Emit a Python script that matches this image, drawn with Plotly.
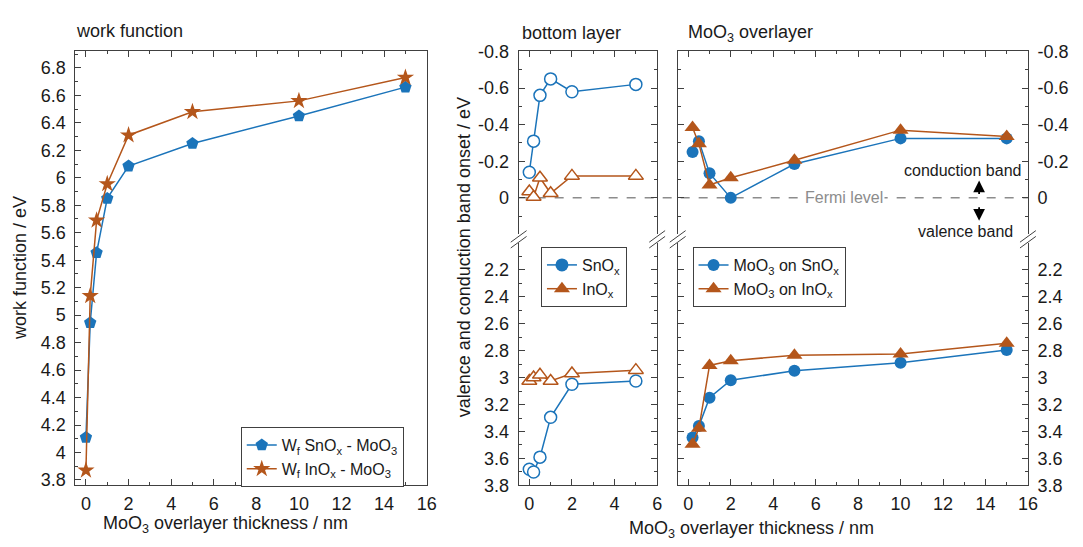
import plotly.graph_objects as go

# ---------------- data ----------------
thickness_wf = [0, 0.2, 0.5, 1, 2, 5, 10, 15]
wf_snox = [4.11, 4.945, 5.455, 5.85, 6.085, 6.25, 6.45, 6.66]
wf_inox = [3.87, 5.14, 5.69, 5.955, 6.31, 6.48, 6.56, 6.73]

bottom_x = [0, 0.2, 0.5, 1, 2, 5]
bottom_snox_cb = [-0.14, -0.31, -0.56, -0.65, -0.58, -0.62]
bottom_inox_cb = [-0.035, -0.005, -0.11, -0.025, -0.12, -0.12]
bottom_snox_vb = [3.68, 3.70, 3.59, 3.295, 3.05, 3.025]
bottom_inox_vb = [3.025, 3.0, 2.98, 3.025, 2.97, 2.945]

overlayer_x = [0.2, 0.5, 1, 2, 5, 10, 15]
moo3_snox_cb = [-0.25, -0.31, -0.135, 0.0, -0.185, -0.325, -0.325]
moo3_inox_cb = [-0.385, -0.295, -0.07, -0.11, -0.205, -0.37, -0.335]
moo3_snox_vb = [3.445, 3.36, 3.15, 3.02, 2.95, 2.89, 2.795]
moo3_inox_vb = [3.495, 3.375, 2.91, 2.875, 2.835, 2.825, 2.745]

cb_ticks = [-0.8, -0.6, -0.4, -0.2, 0]
cb_ticktext = ["-0.8", "-0.6", "-0.4", "-0.2", "0"]
cb_minor = [-0.7, -0.5, -0.3, -0.1, 0.1]
vb_ticks = [2.2, 2.4, 2.6, 2.8, 3.0, 3.2, 3.4, 3.6, 3.8]
vb_ticktext = ["2.2", "2.4", "2.6", "2.8", "3", "3.2", "3.4", "3.6", "3.8"]
vb_minor = [2.1, 2.3, 2.5, 2.7, 2.9, 3.1, 3.3, 3.5, 3.7]

# ---------------- style ----------------
W, H = 1083, 547
BLUE = "#1b74ba"
ORANGE = "#b4561b"
AX = "#404040"
TXT = "#1a1a1a"
FONT = "Liberation Sans, Arial, sans-serif"


def px(p):
    return p / W


def py(p):
    return 1 - p / H


# panel positions (pixels)
L_X = (76, 430.7)
M_X = (523.5, 663.3)
R_X = (684, 1037.5)
FULL_Y = (43, 493.5)
UP_Y = (43, 233)
LO_Y = (241.5, 493.5)

fig = go.Figure()

# ---- left panel: work function ----
fig.add_trace(go.Scatter(
    x=thickness_wf, y=wf_snox, mode="lines+markers", xaxis="x", yaxis="y",
    name="W<sub>f</sub> SnO<sub>x</sub> - MoO<sub>3</sub>",
    line=dict(color=BLUE, width=1.5),
    marker=dict(symbol="pentagon", size=13, color=BLUE), legend="legend"))
fig.add_trace(go.Scatter(
    x=thickness_wf, y=wf_inox, mode="lines+markers", xaxis="x", yaxis="y",
    name="W<sub>f</sub> InO<sub>x</sub> - MoO<sub>3</sub>",
    line=dict(color=ORANGE, width=1.5),
    marker=dict(symbol="star", size=13, color=ORANGE), legend="legend"))

# ---- middle panel: bottom layer (hollow markers) ----
hollow_c = dict(symbol="circle", size=12, color="white", line=dict(color=BLUE, width=1.5))
hollow_t = dict(symbol="triangle-up", size=13, color="white", line=dict(color=ORANGE, width=1.5))
fig.add_trace(go.Scatter(x=bottom_x, y=bottom_snox_cb, mode="lines+markers", xaxis="x2", yaxis="y2",
                         line=dict(color=BLUE, width=1.5), marker=hollow_c, showlegend=False))
fig.add_trace(go.Scatter(x=bottom_x, y=bottom_inox_cb, mode="lines+markers", xaxis="x2", yaxis="y2",
                         line=dict(color=ORANGE, width=1.5), marker=hollow_t, showlegend=False))
fig.add_trace(go.Scatter(x=bottom_x, y=bottom_snox_vb, mode="lines+markers", xaxis="x3", yaxis="y3",
                         line=dict(color=BLUE, width=1.5), marker=hollow_c, showlegend=False))
fig.add_trace(go.Scatter(x=bottom_x, y=bottom_inox_vb, mode="lines+markers", xaxis="x3", yaxis="y3",
                         line=dict(color=ORANGE, width=1.5), marker=hollow_t, showlegend=False))
# legend entries of the middle panel (filled symbols)
fig.add_trace(go.Scatter(x=[None], y=[None], mode="lines+markers", xaxis="x3", yaxis="y3",
                         name="SnO<sub>x</sub>", line=dict(color=BLUE, width=1.5),
                         marker=dict(symbol="circle", size=13, color=BLUE), legend="legend2"))
fig.add_trace(go.Scatter(x=[None], y=[None], mode="lines+markers", xaxis="x3", yaxis="y3",
                         name="InO<sub>x</sub>", line=dict(color=ORANGE, width=1.5),
                         marker=dict(symbol="triangle-up", size=14, color=ORANGE), legend="legend2"))

# ---- right panel: MoO3 overlayer ----
filled_c = dict(symbol="circle", size=12, color=BLUE)
filled_t = dict(symbol="triangle-up", size=14, color=ORANGE)
fig.add_trace(go.Scatter(x=overlayer_x, y=moo3_snox_cb, mode="lines+markers", xaxis="x4", yaxis="y4",
                         name="MoO<sub>3</sub> on SnO<sub>x</sub>", line=dict(color=BLUE, width=1.5),
                         marker=filled_c, legend="legend3"))
fig.add_trace(go.Scatter(x=overlayer_x, y=moo3_inox_cb, mode="lines+markers", xaxis="x4", yaxis="y4",
                         name="MoO<sub>3</sub> on InO<sub>x</sub>", line=dict(color=ORANGE, width=1.5),
                         marker=filled_t, legend="legend3"))
fig.add_trace(go.Scatter(x=overlayer_x, y=moo3_snox_vb, mode="lines+markers", xaxis="x5", yaxis="y5",
                         line=dict(color=BLUE, width=1.5), marker=filled_c, showlegend=False))
fig.add_trace(go.Scatter(x=overlayer_x, y=moo3_inox_vb, mode="lines+markers", xaxis="x5", yaxis="y5",
                         line=dict(color=ORANGE, width=1.5), marker=filled_t, showlegend=False))

# ---------------- axes ----------------
base = dict(showline=True, linecolor=AX, linewidth=1, ticks="inside", tickcolor=AX, tickwidth=1,
            showgrid=False, zeroline=False, tickfont=dict(size=18, color=TXT, family=FONT))
xbase = dict(base, ticklen=6, tickmode="linear", tick0=0, dtick=2,
             minor=dict(ticks="inside", ticklen=3, tickcolor=AX, tickmode="linear", tick0=0, dtick=1, showgrid=False),
             ticklabelstandoff=2)


def cb_axis(**kw):
    return dict(base, ticklen=6, tickmode="array", tickvals=cb_ticks, ticktext=cb_ticktext,
                minor=dict(ticks="inside", ticklen=3, tickcolor=AX, tickmode="array", tickvals=cb_minor),
                range=[0.2, -0.8], mirror="ticks", domain=[py(UP_Y[1]), py(UP_Y[0])],
                ticklabelstandoff=5, **kw)


def vb_axis(**kw):
    return dict(base, ticklen=6, tickmode="array", tickvals=vb_ticks, ticktext=vb_ticktext,
                minor=dict(ticks="inside", ticklen=3, tickcolor=AX, tickmode="array", tickvals=vb_minor),
                range=[3.8, 2.0], mirror="ticks", domain=[py(LO_Y[1]), py(LO_Y[0])],
                ticklabelstandoff=5, **kw)


fig.update_layout(
    xaxis=dict(xbase, domain=[px(L_X[0]), px(L_X[1])], range=[-0.5, 16], anchor="y", mirror="ticks"),
    yaxis=dict(base, domain=[py(FULL_Y[1]), py(FULL_Y[0])], range=[3.76, 6.92], anchor="x",
               ticklen=6, tickmode="linear", tick0=0, dtick=0.2, mirror=True,
               minor=dict(ticks="inside", ticklen=3, tickcolor=AX, tickmode="linear", tick0=0, dtick=0.1),
               ticklabelstandoff=5),
    xaxis2=dict(xbase, domain=[px(M_X[0]), px(M_X[1])], range=[-0.5, 6], anchor="y2", side="top",
                showticklabels=False),
    yaxis2=cb_axis(anchor="x2"),
    xaxis3=dict(xbase, domain=[px(M_X[0]), px(M_X[1])], range=[-0.5, 6], anchor="y3"),
    yaxis3=vb_axis(anchor="x3"),
    xaxis4=dict(xbase, domain=[px(R_X[0]), px(R_X[1])], range=[-0.5, 16], anchor="y4", side="top",
                showticklabels=False),
    yaxis4=cb_axis(anchor="x4", side="right"),
    xaxis5=dict(xbase, domain=[px(R_X[0]), px(R_X[1])], range=[-0.5, 16], anchor="y5"),
    yaxis5=vb_axis(anchor="x5", side="right"),
)

# ---------------- legends ----------------
leg = dict(xanchor="left", yanchor="top", bordercolor=AX, borderwidth=1, bgcolor="white",
           font=dict(size=16, color=TXT, family=FONT), tracegroupgap=0)
fig.update_layout(
    legend=dict(leg, x=px(243), y=py(433)),
    legend2=dict(leg, x=px(546), y=py(246)),
    legend3=dict(leg, x=px(699), y=py(246)),
)

# ---------------- shapes: Fermi level + axis breaks ----------------
shapes = [dict(type="line", xref="paper", yref="y2", x0=px(M_X[0]), x1=px(R_X[1]), y0=0, y1=0,
               line=dict(color="#8c8c8c", width=1.5, dash="dash"), layer="below")]
for xs in (M_X[0], M_X[1], R_X[0], R_X[1]):
    for dy in (0, 6):
        shapes.append(dict(type="line", xref="paper", yref="paper",
                           x0=px(xs - 8), y0=py(241 + dy), x1=px(xs + 8), y1=py(229 + dy),
                           line=dict(color=AX, width=1)))
fig.update_layout(shapes=shapes)

# ---------------- annotations ----------------
af = dict(family=FONT, color=TXT)
ann = [
    dict(text="work function", x=px(75), y=py(22), xref="paper", yref="paper", xanchor="left",
         yanchor="middle", showarrow=False, font=dict(af, size=18)),
    dict(text="bottom layer", x=px(525), y=py(24), xref="paper", yref="paper", xanchor="left",
         yanchor="middle", showarrow=False, font=dict(af, size=18)),
    dict(text="MoO<sub>3</sub> overlayer", x=px(692), y=py(24), xref="paper", yref="paper",
         xanchor="left", yanchor="middle", showarrow=False, font=dict(af, size=18)),
    dict(text="work function / eV", x=px(20), y=py(268), xref="paper", yref="paper", textangle=-90,
         xanchor="center", yanchor="middle", showarrow=False, font=dict(af, size=18)),
    dict(text="valence and conduction band onset / eV", x=px(468), y=py(257), xref="paper",
         yref="paper", textangle=-90, xanchor="center", yanchor="middle", showarrow=False,
         font=dict(af, size=18)),
    dict(text="MoO<sub>3</sub> overlayer thickness / nm", x=px(228), y=py(520), xref="paper",
         yref="paper", xanchor="center", yanchor="top", showarrow=False, font=dict(af, size=18)),
    dict(text="MoO<sub>3</sub> overlayer thickness / nm", x=px(759), y=py(525), xref="paper",
         yref="paper", xanchor="center", yanchor="top", showarrow=False, font=dict(af, size=18)),
    dict(text="Fermi level", x=7.35, y=0, xref="x4", yref="y4", xanchor="center", yanchor="middle",
         showarrow=False, bgcolor="white", font=dict(family=FONT, size=16, color="#8c8c8c")),
    dict(text="conduction band", x=12.9, y=-0.15, xref="x4", yref="y4", xanchor="center",
         yanchor="middle", showarrow=False, font=dict(af, size=16)),
    dict(text="valence band", x=13.05, y=0.185, xref="x4", yref="y4", xanchor="center",
         yanchor="middle", showarrow=False, font=dict(af, size=16)),
    dict(text="", x=13.7, y=-0.095, xref="x4", yref="y4", ax=0, ay=15, showarrow=True,
         arrowhead=2, arrowsize=1.3, arrowwidth=1.8, arrowcolor="black"),
    dict(text="", x=13.7, y=0.125, xref="x4", yref="y4", ax=0, ay=-15, showarrow=True,
         arrowhead=2, arrowsize=1.3, arrowwidth=1.8, arrowcolor="black"),
]
fig.update_layout(annotations=ann)

fig.update_layout(width=W, height=H, autosize=False, margin=dict(l=0, r=0, t=0, b=0),
                  paper_bgcolor="white", plot_bgcolor="white",
                  font=dict(family=FONT, size=16, color=TXT))

fig.write_html("out.html", post_script="document.body.style.margin='0px';")
